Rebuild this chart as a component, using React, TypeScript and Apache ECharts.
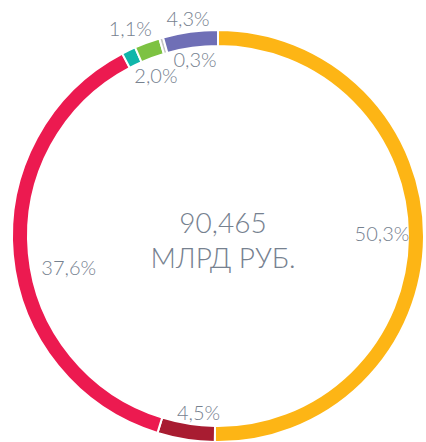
import React, { useEffect, useRef } from "react";
import * as echarts from "echarts";

const categories = ["orange", "darkred", "crimson", "teal", "green", "grey", "purple"];
const values = [50.3, 4.5, 37.6, 1.1, 2.0, 0.3, 4.3];
const valueLabels = ["50,3%", "4,5%", "37,6%", "1,1%", "2,0%", "0,3%", "4,3%"];
const colors = ["#FDB515", "#A81C31", "#EC1A50", "#10B6AA", "#7DC242", "#C4C4C4", "#6F6FB6"];
const labelOffsets: number[][] = [[1, -4], [6, 15], [13, 16], [-17, -61], [-6, -8], [22, -20], [-8, -56]];
const totalLines = ["90,465", "МЛРД РУБ."];

export default function App() {
  const ref = useRef<HTMLDivElement>(null);
  useEffect(() => {
    document.body.style.margin = "0";
    const chart = echarts.init(ref.current!, null, { renderer: "svg" });
    const textColor = "#76818F";
    const font = "Lato, 'Noto Sans', sans-serif";
    chart.setOption({
      animation: false,
      backgroundColor: "#ffffff",
      title: {
        text: totalLines.join("\n"),
        left: 218,
        top: 199,
        textAlign: "center",
        textStyle: {
          color: textColor,
          fontFamily: font,
          fontWeight: 300,
          fontSize: 28,
          lineHeight: 35,
        },
      },
      series: [
        {
          type: "pie",
          center: [218, 236],
          radius: [190, 206],
          startAngle: 90,
          clockwise: true,
          silent: true,
          label: { show: false },
          labelLine: { show: false },
          itemStyle: { borderColor: "#ffffff", borderWidth: 2 },
          data: categories.map((c, i) => ({
            name: c,
            value: values[i],
            itemStyle: { color: colors[i] },
          })),
        },
        {
          type: "pie",
          center: [218, 236],
          radius: [150, 170],
          startAngle: 90,
          clockwise: true,
          silent: true,
          avoidLabelOverlap: false,
          labelLayout: { hideOverlap: false },
          itemStyle: { color: "rgba(0,0,0,0)" },
          labelLine: { show: false },
          label: {
            show: true,
            position: "inside",
            color: textColor,
            textBorderWidth: 0,
            fontFamily: font,
            fontWeight: 300,
            fontSize: 20,
            formatter: (p: any) => valueLabels[p.dataIndex],
          },
          data: categories.map((c, i) => ({
            name: c,
            value: values[i],
            label: { offset: labelOffsets[i], color: textColor, textBorderWidth: 0 },
          })),
        },
      ],
    });
    return () => chart.dispose();
  }, []);
  return <div ref={ref} style={{ width: 426, height: 442 }} />;
}
